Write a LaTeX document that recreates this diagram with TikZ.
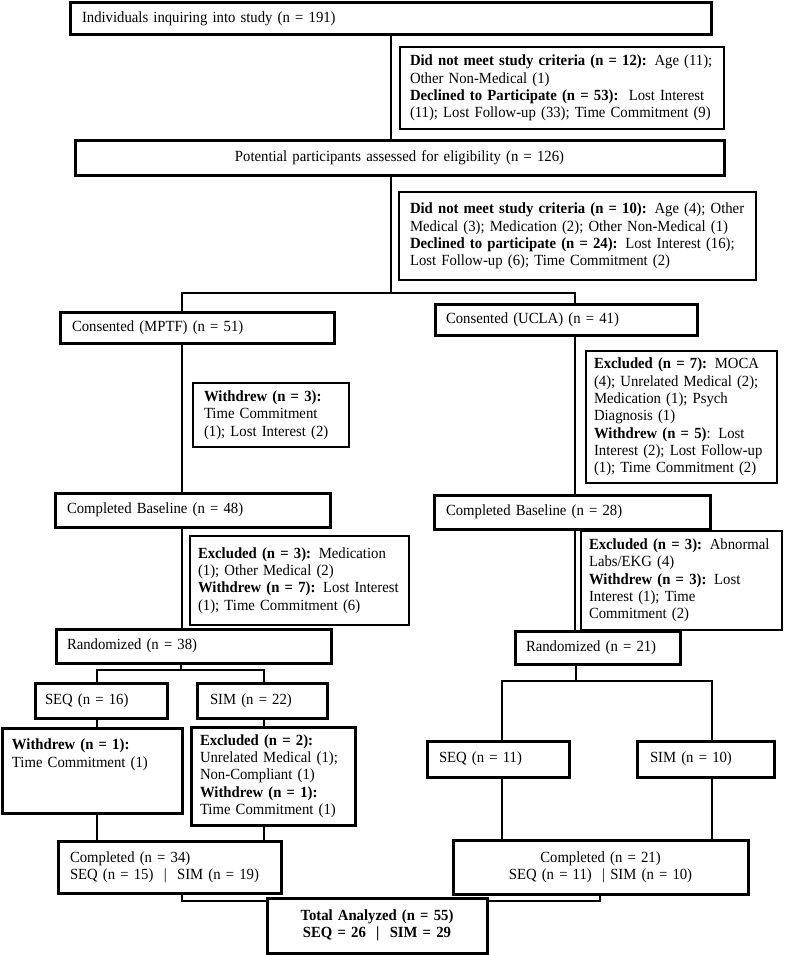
\documentclass[tikz,border=0pt]{standalone}
\usepackage{fontspec}
\setmainfont{Liberation Serif}[FakeStretch=0.95, WordSpace=0.85]
\usepackage{tikz}

\begin{document}
\begin{tikzpicture}[x=1pt, y=-1pt,
    box/.style={draw, rectangle, line width=3pt, outer sep=0pt, inner ysep=0pt,
      anchor=north west, align=left, font=\fontsize{15.5}{17.3}\selectfont},
    sidebox/.style={box, line width=2pt},
    link/.style={line width=2pt}]
  \useasboundingbox (0,0) rectangle (787,955);

  % screening
  \node[box, text width=617pt, inner xsep=12pt, minimum height=32pt] at (70,3) (inquire)
    {Individuals inquiring into study (n = 191)};
  \node[sidebox, text width=304pt, inner xsep=10pt, minimum height=82pt] at (400,47) (exclInq)
    {\textbf{Did not meet study criteria (n = 12):} Age (11);\\
     Other Non-Medical (1)\\
     \textbf{Declined to Participate (n = 53):}\ \ Lost Interest\\
     (11); Lost Follow-up (33); Time Commitment (9)};
  \node[box, align=center, text width=625pt, inner xsep=12pt, minimum height=35pt] at (75,140) (assess)
    {Potential participants assessed for eligibility (n = 126)};
  \node[sidebox, text width=335pt, inner xsep=11pt, minimum height=88pt] at (399,192) (exclAssess)
    {\textbf{Did not meet study criteria (n = 10):} Age (4); Other\\
     Medical (3); Medication (2); Other Non-Medical (1)\\
     \textbf{Declined to participate (n = 24):} Lost Interest (16);\\
     Lost Follow-up (6); Time Commitment (2)};

  % the two sites
  \node[box, text width=250pt, inner xsep=12pt, minimum height=31pt] at (60,312) (consMPTF)
    {Consented (MPTF) (n = 51)};
  \node[box, text width=240pt, inner xsep=11pt, minimum height=31pt] at (435,304) (consUCLA)
    {Consented (UCLA) (n = 41)};
  \node[sidebox, text width=134pt, inner xsep=11pt, minimum height=64pt] at (193,383) (outMPTF)
    {\textbf{Withdrew (n = 3):}\\ Time Commitment\\ (1); Lost Interest (2)};
  \node[sidebox, text width=175pt, inner xsep=8pt, minimum height=132pt] at (586,351) (outUCLA)
    {\textbf{Excluded (n = 7):} MOCA\\ (4); Unrelated Medical (2);\\ Medication (1); Psych\\
     Diagnosis (1)\\ \textbf{Withdrew (n = 5)}: Lost\\ Interest (2); Lost Follow-up\\
     (1); Time Commitment (2)};
  \node[box, text width=251pt, inner xsep=12pt, minimum height=34pt] at (55,493) (baseMPTF)
    {Completed Baseline (n = 48)};
  \node[box, text width=252pt, inner xsep=12pt, minimum height=34pt] at (434,495) (baseUCLA)
    {Completed Baseline (n = 28)};
  \node[sidebox, text width=203pt, inner xsep=8pt, minimum height=89pt] at (190,536) (dropMPTF)
    {\textbf{Excluded (n = 3):} Medication\\ (1); Other Medical (2)\\
     \textbf{Withdrew (n = 7):} Lost Interest\\ (1); Time Commitment (6)};
  \node[sidebox, text width=185pt, inner xsep=8pt, minimum height=99pt] at (581,531) (dropUCLA)
    {\textbf{Excluded (n = 3):} Abnormal\\ Labs/EKG (4)\\ \textbf{Withdrew (n = 3):} Lost\\
     Interest (1); Time\\ Commitment (2)};
  \node[box, text width=253pt, inner xsep=11pt, minimum height=34pt] at (56,629) (randMPTF)
    {Randomized (n = 38)};
  \node[box, text width=143pt, inner xsep=11pt, minimum height=33pt] at (515,631) (randUCLA)
    {Randomized (n = 21)};

  % arms
  \node[box, text width=112pt, inner xsep=10pt, minimum height=35pt] at (35,683) (seqMPTF) {SEQ (n = 16)};
  \node[box, text width=104pt, inner xsep=13pt, minimum height=35pt] at (197,683) (simMPTF) {SIM (n = 22)};
  \node[box, text width=160pt, inner xsep=10pt, minimum height=85pt] at (2,728) (outSeq)
    {\textbf{Withdrew (n = 1):}\\ Time Commitment (1)\\ \mbox{}\\ \mbox{}};
  \node[box, text width=146pt, inner xsep=9pt, minimum height=98pt] at (191,727) (outSim)
    {\textbf{Excluded (n = 2):}\\ Unrelated Medical (1);\\ Non-Compliant (1)\\
     \textbf{Withdrew (n = 1):}\\ Time Commitment (1)};
  \node[box, text width=118pt, inner xsep=12pt, minimum height=36pt] at (427,741) (seqUCLA) {SEQ (n = 11)};
  \node[box, text width=111pt, inner xsep=13pt, minimum height=36pt] at (637,741) (simUCLA) {SIM (n = 10)};
  \node[box, text width=199pt, inner xsep=12pt, minimum height=52pt] at (58,841) (compMPTF)
    {Completed (n = 34)\\ SEQ (n = 15)\ \ |\ \ SIM (n = 19)};
  \node[box, align=center, text width=271pt, inner xsep=12pt, minimum height=54pt] at (453,840) (compUCLA)
    {Completed (n = 21)\\ SEQ (n = 11)\ \ | SIM (n = 10)};

  \coordinate (split) at (391,293);
  \coordinate (splitL) at (182,293);
  \coordinate (splitR) at (575,293);
  \coordinate (randL) at (181,670);
  \coordinate (randLa) at (97,670);
  \coordinate (randLb) at (264,670);
  \coordinate (randR) at (576,681);
  \coordinate (randRa) at (502,681);
  \coordinate (randRb) at (712,681);
  \coordinate (joinL) at (182,901);
  \coordinate (joinR) at (600,901);

  \draw[link] (inquire.south) -- (inquire.south |- assess.north);
  \draw[link] (assess.south -| split) -- (split);
  \draw[link] (consMPTF.north -| splitL) -- (splitL) -- (splitR) -- (consUCLA.north -| splitR);
  \foreach \a/\b/\c in {consMPTF/baseMPTF/splitL, baseMPTF/randMPTF/splitL,
                        consUCLA/baseUCLA/splitR, baseUCLA/randUCLA/splitR,
                        seqMPTF/outSeq/randLa, simMPTF/outSim/randLb,
                        outSeq/compMPTF/randLa, outSim/compMPTF/randLb,
                        seqUCLA/compUCLA/randRa, simUCLA/compUCLA/randRb}
    \draw[link] (\a.south -| \c) -- (\b.north -| \c);
  \draw[link] (randMPTF.south -| randL) -- (randL);
  \draw[link] (seqMPTF.north -| randLa) -- (randLa) -- (randLb) -- (simMPTF.north -| randLb);
  \draw[link] (randUCLA.south -| randR) -- (randR);
  \draw[link] (seqUCLA.north -| randRa) -- (randRa) -- (randRb) -- (simUCLA.north -| randRb);
  \draw[link] (compMPTF.south -| joinL) -- (joinL) -- (joinR) -- (compUCLA.south -| joinR);

  \node[box, fill=white, align=center, text width=196pt, inner xsep=12pt, minimum height=55pt,
    font=\fontsize{15.5}{17.3}\selectfont\bfseries] at (267,898) (total)
    {Total Analyzed (n = 55)\\ SEQ = 26\ \ |\ \ SIM = 29};
\end{tikzpicture}
\end{document}
